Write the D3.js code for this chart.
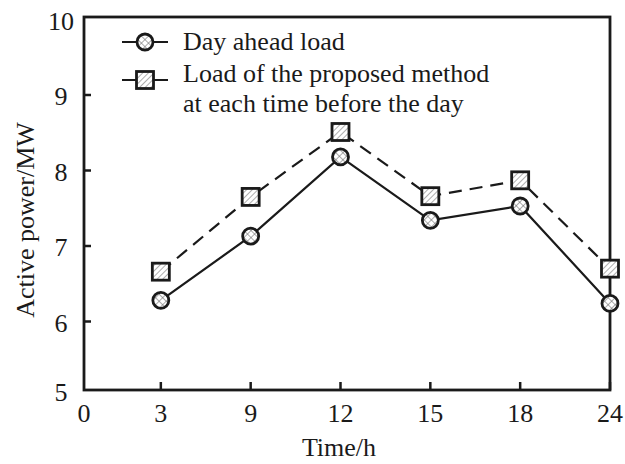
<!DOCTYPE html>
<html>
<head>
<meta charset="utf-8">
<script src="https://cdn.jsdelivr.net/npm/d3@7"></script>
<style>
  body { margin: 0; background: #fff; }
  svg { display: block; font-family: "Liberation Serif", "Times New Roman", serif; }
</style>
</head>
<body>
<svg id="chart" width="625" height="464"></svg>
<script>
// Chart data
const times = ['0', '3', '9', '12', '15', '18', '24'];
const pointTimes = ['3', '9', '12', '15', '18', '24'];
const dayAheadLoad = [6.28, 7.13, 8.18, 7.34, 7.53, 6.24];
const proposedLoad = [6.66, 7.65, 8.51, 7.66, 7.87, 6.70];
const yTicks = [5, 6, 7, 8, 9, 10];
const legendLabels = ['Day ahead load', 'Load of the proposed method', 'at each time before the day'];

const svg = d3.select('#chart');
const ink = '#1a1a1a';

// Plot frame
const frame = { left: 84, right: 610, top: 17, bottom: 390 };

// x: categories evenly spaced, "0" sits on the y axis
const xIdx = d3.scaleLinear().domain([0, 6]).range([71, 610]);
const x = t => t === '0' ? frame.left : xIdx(times.indexOf(t));
const y = d3.scaleLinear().domain([5, 10]).range([397, 19.5]);

// Patterns for marker fills
const defs = svg.append('defs');
const hatch = defs.append('pattern')
    .attr('id', 'hatch')
    .attr('patternUnits', 'userSpaceOnUse')
    .attr('width', 4).attr('height', 4)
    .attr('patternTransform', 'rotate(45)');
hatch.append('rect').attr('width', 4).attr('height', 4).attr('fill', '#fff');
hatch.append('line').attr('x1', 0).attr('y1', 0).attr('x2', 0).attr('y2', 4)
    .attr('stroke', '#777').attr('stroke-width', 1.2);

const cross = defs.append('pattern')
    .attr('id', 'cross')
    .attr('patternUnits', 'userSpaceOnUse')
    .attr('width', 5).attr('height', 5)
    .attr('patternTransform', 'rotate(45)');
cross.append('rect').attr('width', 5).attr('height', 5).attr('fill', '#fff');
cross.append('line').attr('x1', 0).attr('y1', 0).attr('x2', 0).attr('y2', 5)
    .attr('stroke', '#666').attr('stroke-width', 1.1);
cross.append('line').attr('x1', 0).attr('y1', 0).attr('x2', 5).attr('y2', 0)
    .attr('stroke', '#666').attr('stroke-width', 1.1);

// Axes (ticks pointing inward)
const gx = svg.append('g');
gx.selectAll('line')
    .data(pointTimes)
    .enter().append('line')
    .attr('x1', d => x(d)).attr('x2', d => x(d))
    .attr('y1', frame.bottom).attr('y2', frame.bottom - 8)
    .attr('stroke', ink).attr('stroke-width', 2.5);
gx.selectAll('text')
    .data(times)
    .enter().append('text')
    .attr('x', d => x(d))
    .attr('y', 422)
    .attr('text-anchor', 'middle')
    .attr('font-size', 26)
    .attr('fill', ink)
    .text(d => d);

const gy = svg.append('g');
gy.selectAll('line')
    .data(yTicks.filter(v => v > 5 && v < 10))
    .enter().append('line')
    .attr('x1', frame.left).attr('x2', frame.left + 7)
    .attr('y1', d => y(d)).attr('y2', d => y(d))
    .attr('stroke', ink).attr('stroke-width', 2.5);
gy.selectAll('text')
    .data(yTicks)
    .enter().append('text')
    .attr('x', 61)
    .attr('y', d => d === 5 ? frame.bottom + 11 : y(d) + 10)
    .attr('text-anchor', 'middle')
    .attr('font-size', 26)
    .attr('fill', ink)
    .text(d => d);

// Frame
svg.append('rect')
    .attr('x', frame.left).attr('y', frame.top)
    .attr('width', frame.right - frame.left).attr('height', frame.bottom - frame.top)
    .attr('fill', 'none').attr('stroke', ink).attr('stroke-width', 2.8);

// Axis titles
svg.append('text')
    .attr('x', 339).attr('y', 456)
    .attr('text-anchor', 'middle')
    .attr('font-size', 26)
    .attr('fill', ink)
    .text('Time/h');
svg.append('text')
    .attr('transform', 'translate(34,220) rotate(-90)')
    .attr('text-anchor', 'middle')
    .attr('font-size', 26)
    .attr('fill', ink)
    .text('Active power/MW');

// Lines
const line = d3.line().x(d => x(d.t)).y(d => y(d.v));
const dayData = pointTimes.map((t, i) => ({ t, v: dayAheadLoad[i] }));
const propData = pointTimes.map((t, i) => ({ t, v: proposedLoad[i] }));

svg.append('path')
    .datum(propData)
    .attr('d', line)
    .attr('fill', 'none')
    .attr('stroke', ink)
    .attr('stroke-width', 2.2)
    .attr('stroke-dasharray', '13,8');
svg.append('path')
    .datum(dayData)
    .attr('d', line)
    .attr('fill', 'none')
    .attr('stroke', ink)
    .attr('stroke-width', 2.2);

// Markers
function drawCircle(g, cx, cy) {
    g.append('circle')
        .attr('cx', cx).attr('cy', cy).attr('r', 8)
        .attr('fill', 'url(#cross)')
        .attr('stroke', ink).attr('stroke-width', 2.8);
}
function drawSquare(g, cx, cy) {
    g.append('rect')
        .attr('x', cx - 8.5).attr('y', cy - 8.5)
        .attr('width', 17).attr('height', 17)
        .attr('fill', 'url(#hatch)')
        .attr('stroke', ink).attr('stroke-width', 2.8);
}

const markers = svg.append('g');
propData.forEach(d => drawSquare(markers, x(d.t), y(d.v)));
dayData.forEach(d => drawCircle(markers, x(d.t), y(d.v)));

// Legend
const legend = svg.append('g');
const legendRows = [42, 80];
legendRows.forEach((ly, i) => {
    legend.append('line')
        .attr('x1', 122).attr('x2', 168)
        .attr('y1', ly).attr('y2', ly)
        .attr('stroke', ink).attr('stroke-width', 2.2);
    if (i === 0) drawCircle(legend, 145, ly);
    else drawSquare(legend, 145, ly);
});
legend.selectAll('text')
    .data(legendLabels)
    .enter().append('text')
    .attr('x', 183)
    .attr('y', (d, i) => [50, 82, 112][i])
    .attr('font-size', 26)
    .attr('fill', ink)
    .text(d => d);
</script>
</body>
</html>
